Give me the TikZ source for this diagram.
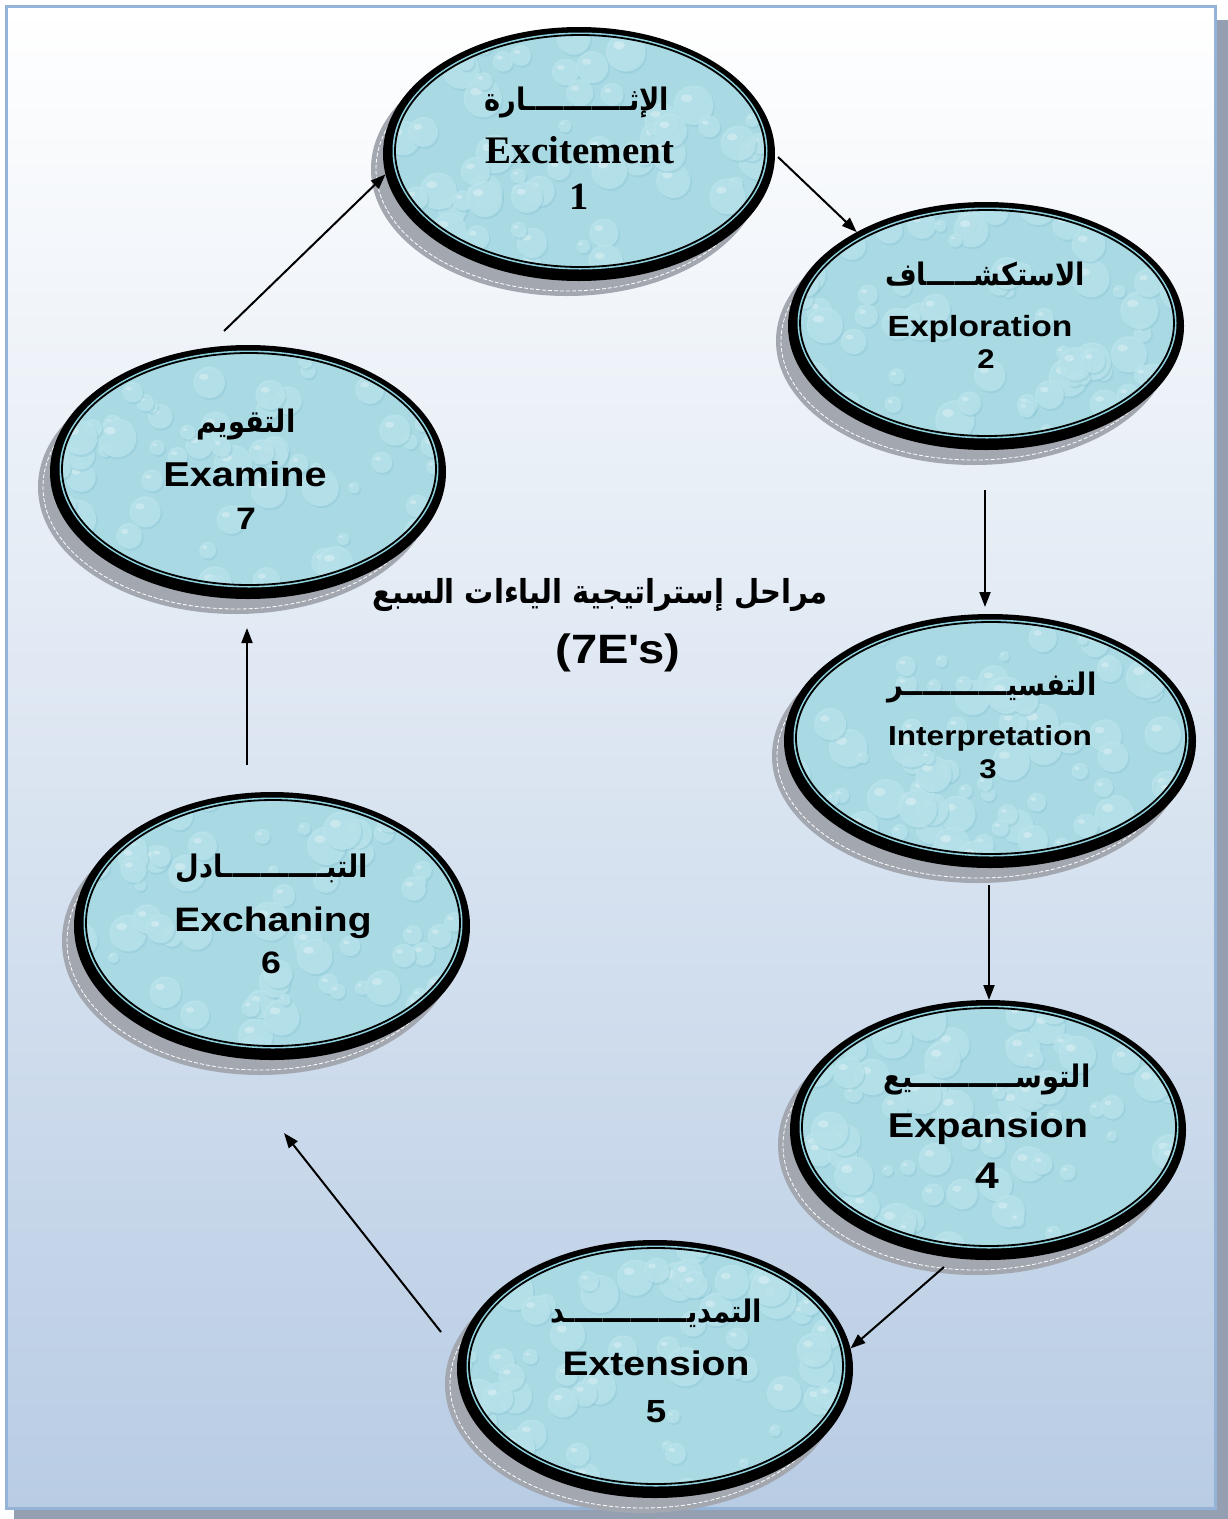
\documentclass[tikz,border=0pt]{standalone}
\usepackage{fontspec}
\usetikzlibrary{arrows.meta,shapes.geometric}
\TeXXeTstate=1
\newfontfamily\arfont[Script=Arabic,FakeStretch=0.88]{DejaVu Sans}
\newfontfamily\enfont[FakeStretch=1.15]{Liberation Sans}
\newfontfamily\serfont{Liberation Serif}
\definecolor{framebd}{HTML}{95B3D7}
\definecolor{pageshadow}{HTML}{94A0B1}
\definecolor{bgmid}{HTML}{DFE7F1}
\definecolor{bgbottom}{HTML}{B8CCE4}
\definecolor{shadowgray}{HTML}{A2A7B0}
\definecolor{ringcyan}{HTML}{8FD3E0}
\definecolor{dropbase}{HTML}{A9DAE4}
\definecolor{droplight}{HTML}{BCE5ED}
\definecolor{dropdark}{HTML}{84C2D2}
\tikzset{
  stagenode/.style={ellipse, draw=none, inner sep=0pt, outer sep=0pt},
  lbl/.style={inner sep=0pt, anchor=base},
  arr/.style={-{Triangle[length=15pt,width=11pt]}, line width=2pt, black},
}
\newcommand\stagebg[4]{%
  \fill[shadowgray] (#1-12,#2+15) ellipse[x radius=#3, y radius=#4];
  \draw[white, line width=0.8pt, dash pattern=on 4pt off 2pt] (#1-12,#2+15) ellipse[x radius=#3-5, y radius=#4-5];
  \fill[black] (#1,#2) ellipse[x radius=#3, y radius=#4];
  \fill[ringcyan] (#1+1,#2-3) ellipse[x radius=#3-8.5, y radius=#4-8.5];
  \begin{scope}
    \clip (#1+1,#2-3) ellipse[x radius=#3-11, y radius=#4-11];
    \fill[dropbase] (#1-#3,#2-#4) rectangle (#1+#3,#2+#4);
    \foreach \k in {1,...,85}{%
      \pgfmathsetmacro\px{#1+rand*(#3)}%
      \pgfmathsetmacro\py{#2+rand*(#4)}%
      \pgfmathsetmacro\pr{5+rnd*15}%
      \fill[dropdark, opacity=.35] (\px+1.5,\py+2) circle[radius=\pr];
      \fill[droplight, opacity=.75] (\px,\py) circle[radius=\pr];
      \fill[white, opacity=.3] (\px-\pr*.35,\py-\pr*.35) ellipse[x radius=\pr*.3, y radius=\pr*.2];
    }
  \end{scope}
  \draw[black, line width=1.8pt] (#1+1,#2-3) ellipse[x radius=#3-11, y radius=#4-11];
}
\begin{document}
\begin{tikzpicture}[x=1pt,y=-1pt]
\pgfmathsetseed{12}
\useasboundingbox (0,0) rectangle (1228,1519);
\fill[pageshadow] (14,20) rectangle (1228,1519);
\path[top color=white, middle color=bgmid, bottom color=bgbottom, draw=framebd, line width=3pt] (6,6) rectangle (1215,1508);

\stagebg{579}{154}{196}{127}
\stagebg{986}{326}{198}{124}
\stagebg{990}{741}{206}{127}
\stagebg{988}{1130}{198}{130}
\stagebg{655}{1369}{198}{129}
\stagebg{272}{926}{198}{134}
\stagebg{248}{472}{198}{127}

\node[stagenode, minimum width=392pt, minimum height=254pt] (e1) at (579,154) {};
\node[stagenode, minimum width=396pt, minimum height=248pt] (e2) at (986,326) {};
\node[stagenode, minimum width=412pt, minimum height=254pt] (e3) at (990,741) {};
\node[stagenode, minimum width=396pt, minimum height=260pt] (e4) at (988,1130) {};
\node[stagenode, minimum width=396pt, minimum height=258pt] (e5) at (655,1369) {};
\node[stagenode, minimum width=396pt, minimum height=268pt] (e6) at (272,926) {};
\node[stagenode, minimum width=396pt, minimum height=254pt] (e7) at (248,472) {};

% stage 1
\node[lbl] (t1a) at (577,110) {\arfont\bfseries\fontsize{31}{33}\selectfont\beginR الإثـــــــــــارة\endR};
\node[lbl] (t1b) at (580,163) {\serfont\bfseries\fontsize{39}{40}\selectfont Excitement};
\node[lbl] (t1c) at (579,209) {\serfont\bfseries\fontsize{38.5}{40}\selectfont 1};
% stage 2
\node[lbl] (t2a) at (985,285) {\arfont\bfseries\fontsize{31}{33}\selectfont\beginR الاستكشـــــاف\endR};
\node[lbl] (t2b) at (980,336) {\enfont\bfseries\fontsize{29.2}{31}\selectfont Exploration};
\node[lbl] (t2c) at (986,368) {\enfont\bfseries\fontsize{27}{29}\selectfont 2};
% stage 3
\node[lbl] (t3a) at (992,695) {\arfont\bfseries\fontsize{31}{33}\selectfont\beginR التفسيـــــــــــر\endR};
\node[lbl] (t3b) at (990,745) {\enfont\bfseries\fontsize{27.5}{29}\selectfont Interpretation};
\node[lbl] (t3c) at (988,778) {\enfont\bfseries\fontsize{27}{29}\selectfont 3};
% stage 4
\node[lbl] (t4a) at (987,1087) {\arfont\bfseries\fontsize{31}{33}\selectfont\beginR التوســـــــــــيع\endR};
\node[lbl] (t4b) at (988,1137) {\enfont\bfseries\fontsize{34.4}{36}\selectfont Expansion};
\node[lbl] (t4c) at (987,1188) {\enfont\bfseries\fontsize{37}{39}\selectfont 4};
% stage 5
\node[lbl] (t5a) at (656,1322) {\arfont\bfseries\fontsize{31}{33}\selectfont\beginR التمديـــــــــــــد\endR};
\node[lbl] (t5b) at (656,1375) {\enfont\bfseries\fontsize{34}{36}\selectfont Extension};
\node[lbl] (t5c) at (656,1422) {\enfont\bfseries\fontsize{32}{34}\selectfont 5};
% stage 6
\node[lbl] (t6a) at (272,877) {\arfont\bfseries\fontsize{31}{33}\selectfont\beginR التبـــــــــــادل\endR};
\node[lbl] (t6b) at (273,931) {\enfont\bfseries\fontsize{33.9}{36}\selectfont Exchaning};
\node[lbl] (t6c) at (271,973) {\enfont\bfseries\fontsize{31}{33}\selectfont 6};
% stage 7
\node[lbl] (t7a) at (246,432) {\arfont\bfseries\fontsize{31}{33}\selectfont\beginR التقويم\endR};
\node[lbl] (t7b) at (245,486) {\enfont\bfseries\fontsize{34.5}{36}\selectfont Examine};
\node[lbl] (t7c) at (246,529) {\enfont\bfseries\fontsize{31}{33}\selectfont 7};

% title
\node[lbl] (title) at (600,603) {\arfont\bfseries\fontsize{33}{35}\selectfont\beginR مراحل إستراتيجية الياءات السبع\endR};
\node[lbl] (sub) at (618,663) {\enfont\bfseries\fontsize{41}{43}\selectfont (7E\textquotesingle s)};

% connectors
\coordinate (s12) at (778,157);
\coordinate (s23) at (985,490);
\coordinate (s34) at (989,885);
\coordinate (s45) at (944,1267);
\coordinate (s56) at (441,1332);
\coordinate (t56) at (284,1133);
\coordinate (s67) at (247,765);
\coordinate (t67) at (247,628);
\coordinate (s71) at (224,331);
\draw[arr] (s12) -- (e2.144);
\draw[arr, shorten >=7pt] (s23) -- (s23 |- e3.north);
\draw[arr] (s34) -- (s34 |- e4.north);
\draw[arr] (s45) -- (e5.6);
\draw[arr] (s56) -- (t56);
\draw[arr] (s67) -- (t67);
\draw[arr] (s71) -- (e1.186);
\end{tikzpicture}
\end{document}
